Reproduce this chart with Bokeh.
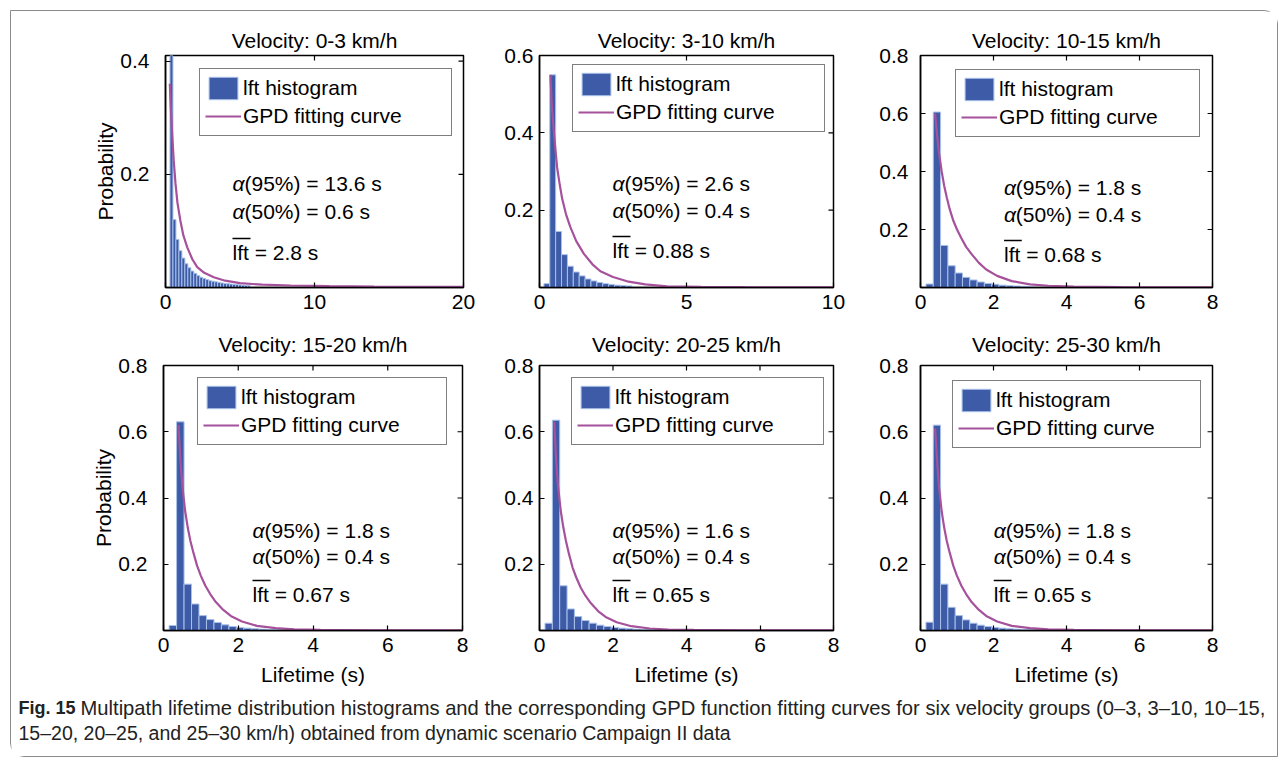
from bokeh.plotting import figure
from bokeh.models import Range1d, FixedTicker, Legend, LegendItem, Spacer
from bokeh.layouts import column, row
from bokeh.embed import file_html
from bokeh.resources import INLINE
from bokeh.core.properties import value

# ---------------- data ----------------
titles = ["Velocity: 0-3 km/h", "Velocity: 3-10 km/h", "Velocity: 10-15 km/h",
          "Velocity: 15-20 km/h", "Velocity: 20-25 km/h", "Velocity: 25-30 km/h"]
x_max = [20, 10, 8, 8, 8, 8]
y_max = [0.41, 0.6, 0.8, 0.8, 0.8, 0.8]
x_ticks = [[0, 10, 20], [0, 5, 10], [0, 2, 4, 6, 8], [0, 2, 4, 6, 8],
           [0, 2, 4, 6, 8], [0, 2, 4, 6, 8]]
y_ticks = [[0.2, 0.4], [0.2, 0.4, 0.6], [0.2, 0.4, 0.6, 0.8],
           [0.2, 0.4, 0.6, 0.8], [0.2, 0.4, 0.6, 0.8], [0.2, 0.4, 0.6, 0.8]]
alpha95 = ["13.6", "2.6", "1.8", "1.8", "1.6", "1.8"]
alpha50 = ["0.6", "0.4", "0.4", "0.4", "0.4", "0.4"]
lft_mean = ["2.8", "0.88", "0.68", "0.67", "0.65", "0.65"]

bins_1 = [0.4, 0.6, 0.8, 1.0, 1.2, 1.4, 1.6, 1.8, 2.0, 2.2, 2.4, 2.6, 2.8, 3.0,
          3.2, 3.4, 3.6, 3.8, 4.0, 4.2, 4.4, 4.6, 4.8, 5.0, 5.2, 5.4, 5.6]
hist_1 = [0.45, 0.12, 0.085, 0.065, 0.052, 0.042, 0.035, 0.029, 0.025, 0.021, 0.018,
          0.016, 0.014, 0.012, 0.011, 0.010, 0.009, 0.008, 0.007, 0.0065, 0.006,
          0.0055, 0.005, 0.0045, 0.004, 0.0035, 0.003]
bins_n = [0.25, 0.45, 0.65, 0.85, 1.05, 1.25, 1.45, 1.65, 1.85, 2.05, 2.25, 2.45,
          2.65, 2.85, 3.05]
hist_2 = [0.01, 0.55, 0.145, 0.085, 0.055, 0.04, 0.03, 0.022, 0.017, 0.013, 0.01,
          0.008, 0.006, 0.005, 0.004]
hist_3 = [0.012, 0.605, 0.145, 0.075, 0.05, 0.035, 0.026, 0.019, 0.014, 0.011,
          0.008, 0.006, 0.005, 0.004, 0.003]
hist_4 = [0.015, 0.63, 0.14, 0.08, 0.045, 0.033, 0.024, 0.017, 0.012, 0.009,
          0.007, 0.005, 0.004, 0.003, 0.003]
hist_5 = [0.022, 0.635, 0.135, 0.065, 0.042, 0.03, 0.022, 0.016, 0.012, 0.009,
          0.007, 0.005, 0.004, 0.003, 0.003]
hist_6 = [0.025, 0.62, 0.14, 0.07, 0.045, 0.032, 0.022, 0.016, 0.012, 0.009,
          0.007, 0.005, 0.004, 0.003, 0.003]

curve_x_1 = [0.29, 0.35, 0.45, 0.55, 0.67, 0.8, 1.0, 1.2, 1.46, 1.8, 2.13, 2.6,
             3.24, 4.0, 5.0, 6.5, 8.4, 11, 14, 17, 20]
curve_y_1 = [0.36, 0.32, 0.27, 0.225, 0.184, 0.15, 0.118, 0.092, 0.071, 0.05,
             0.036, 0.026, 0.018, 0.012, 0.0076, 0.005, 0.0035, 0.0025, 0.0018,
             0.0013, 0.001]
curve_x_2 = [0.37, 0.42, 0.49, 0.55, 0.6, 0.68, 0.77, 0.9, 1.05, 1.25, 1.51, 1.8,
             2.07, 2.5, 2.98, 3.6, 4.34, 5.5, 7, 10]
curve_y_2 = [0.55, 0.47, 0.40, 0.35, 0.31, 0.27, 0.23, 0.19, 0.156, 0.12, 0.087,
             0.06, 0.042, 0.027, 0.016, 0.008, 0.003, 0.0015, 0.0008, 0.0003]
curve_x_3 = [0.40, 0.45, 0.5, 0.58, 0.65, 0.72, 0.8, 0.9, 1.0, 1.12, 1.25, 1.4,
             1.6, 1.8, 2.1, 2.5, 3.0, 3.5, 4.2, 5.5, 8]
curve_y_3 = [0.60, 0.53, 0.47, 0.40, 0.35, 0.31, 0.27, 0.23, 0.20, 0.17, 0.14,
             0.115, 0.085, 0.062, 0.04, 0.022, 0.011, 0.006, 0.003, 0.001, 0.0003]
curve_x_4 = [0.40, 0.45, 0.5, 0.58, 0.65, 0.72, 0.8, 0.9, 1.0, 1.12, 1.25, 1.4,
             1.6, 1.8, 2.1, 2.5, 3.0, 3.5, 4.2, 5.5, 8]
curve_y_4 = [0.62, 0.52, 0.44, 0.36, 0.31, 0.27, 0.235, 0.195, 0.165, 0.135, 0.11,
             0.086, 0.062, 0.044, 0.027, 0.014, 0.007, 0.0035, 0.0018, 0.0008, 0.0003]
curve_x_5 = curve_x_4
curve_y_5 = [0.63, 0.52, 0.44, 0.36, 0.31, 0.27, 0.232, 0.19, 0.16, 0.13, 0.105,
             0.082, 0.058, 0.041, 0.025, 0.013, 0.006, 0.003, 0.0016, 0.0007, 0.0003]
curve_x_6 = curve_x_4
curve_y_6 = [0.61, 0.52, 0.44, 0.36, 0.31, 0.27, 0.235, 0.195, 0.165, 0.135, 0.11,
             0.086, 0.062, 0.044, 0.027, 0.014, 0.007, 0.0035, 0.0018, 0.0008, 0.0003]

bins = [bins_1, bins_n, bins_n, bins_n, bins_n, bins_n]
hists = [hist_1, hist_2, hist_3, hist_4, hist_5, hist_6]
curves_x = [curve_x_1, curve_x_2, curve_x_3, curve_x_4, curve_x_5, curve_x_6]
curves_y = [curve_y_1, curve_y_2, curve_y_3, curve_y_4, curve_y_5, curve_y_6]

legend_labels = ["lft histogram", "GPD fitting curve"]
caption_bold = "Fig. 15"
caption_line1 = ("Multipath lifetime distribution histograms and the corresponding GPD "
                 "function fitting curves for six velocity groups (0\u20133, 3\u201310, 10\u201315,")
caption_line2 = ("15\u201320, 20\u201325, and 25\u201330 km/h) obtained from dynamic scenario "
                 "Campaign II data")

# ---------------- style / layout ----------------
FONT = "Liberation Sans"
FS = "21px"
BAR_FILL = "#3d5ba6"
BAR_EDGE = "#a8c0ea"
CURVE = "#a6519c"
TICK_PX = 5

# (left border, frame width, right border, top border, frame height, bottom border)
geom = [
    (154, 298, 37, 44, 232, 33),
    (39, 294, 43, 44, 232, 33),
    (39, 297, 65, 44, 232, 33),
    (152, 299, 38, 45, 265, 60),
    (39, 294, 43, 45, 265, 60),
    (41, 295, 65, 45, 265, 60),
]
ytick_standoff = [16, 6, 12, 16, 6, 12]
legend_pos = [(34, 15, 251), (33, 11, 251), (35, 16, 243),
              (34, 14, 248), (32, 14, 251), (32, 17, 247)]
text_pos = [(67, 128, 156, 197), (73, 128, 155, 195), (85, 132, 159, 199),
            (89, 165, 191, 229), (73, 165, 191, 229), (74, 165, 191, 229)]


def make_panel(i):
    bl, fw, br, bt, fh, bb = geom[i]
    xm, ym = x_max[i], y_max[i]
    p = figure(width=bl + fw + br, height=bt + fh + bb,
               x_range=Range1d(0, xm), y_range=Range1d(0, ym),
               output_backend="svg", toolbar_location=None,
               min_border_left=bl, min_border_right=br,
               min_border_top=bt, min_border_bottom=bb)
    p.grid.visible = False
    p.outline_line_color = "black"
    p.outline_line_width = 1.5
    p.background_fill_color = "white"
    p.border_fill_color = "white"

    def dx(px):
        return px * xm / fw

    def dyt(px):
        return ym * (1 - px / fh)

    p.title.text = titles[i]
    p.title.align = "center"
    p.title.text_font = FONT
    p.title.text_font_size = FS
    p.title.text_font_style = "normal"
    p.title.text_color = "black"
    p.title.standoff = 7 if i < 3 else 19

    p.xaxis.ticker = FixedTicker(ticks=x_ticks[i])
    p.yaxis.ticker = FixedTicker(ticks=y_ticks[i])
    for ax in p.axis:
        ax.major_label_text_font = FONT
        ax.major_label_text_font_size = FS
        ax.major_label_text_color = "black"
        ax.major_tick_in = TICK_PX
        ax.major_tick_out = 0
        ax.minor_tick_line_color = None
        ax.axis_line_color = "black"
        ax.axis_line_width = 1.5
        ax.major_tick_line_width = 1.2
        ax.axis_label_text_font = FONT
        ax.axis_label_text_font_size = FS
        ax.axis_label_text_font_style = "normal"
        ax.axis_label_text_color = "black"
    p.xaxis.major_label_standoff = 7
    p.yaxis.major_label_standoff = ytick_standoff[i]
    if i in (0, 3):
        p.yaxis.axis_label = "Probability"
        p.yaxis.axis_label_standoff = 0
    if i >= 3:
        p.xaxis.axis_label = "Lifetime (s)"
        p.xaxis.axis_label_standoff = 8

    # box tick marks on the top and right edges
    xt = [t for t in x_ticks[i] if 0 < t < xm]
    yt = [t for t in y_ticks[i] if 0 < t < ym]
    p.segment(x0=xt, y0=[ym] * len(xt), x1=xt, y1=[dyt(TICK_PX)] * len(xt),
              line_color="black", line_width=1.2)
    p.segment(x0=[xm] * len(yt), y0=yt, x1=[xm - dx(TICK_PX)] * len(yt), y1=yt,
              line_color="black", line_width=1.2)

    bars = p.vbar(x=bins[i], top=hists[i], width=0.2, bottom=0,
                  fill_color=BAR_FILL, line_color=BAR_EDGE, line_width=1)
    curve = p.line(curves_x[i], curves_y[i], line_color=CURVE, line_width=2.2)

    lx, ly, lw = legend_pos[i]
    pad, gw, gh, sp, stand = 5, 36, 28, 0, 2
    leg_h = 2 * pad + 2 * gh + sp
    legend = Legend(items=[LegendItem(label=legend_labels[0], renderers=[bars]),
                           LegendItem(label=legend_labels[1], renderers=[curve])],
                    location=(lx, fh - ly - leg_h),
                    border_line_color="black", border_line_width=1.5,
                    background_fill_color="white", background_fill_alpha=1.0,
                    label_text_font=FONT, label_text_font_size=FS,
                    label_text_color="black",
                    glyph_width=gw, glyph_height=gh, label_height=gh,
                    label_standoff=stand, padding=pad, spacing=sp, margin=0,
                    label_width=lw - 2 * pad - gw - stand)
    p.add_layout(legend)

    tx, y1, y2, y3 = text_pos[i]
    p.text(x=[dx(tx), dx(tx)], y=[dyt(y1), dyt(y2)], text=["\u03b1", "\u03b1"],
           text_font=value(FONT), text_font_size=FS, text_font_style="italic",
           text_baseline="middle", text_align="left", text_color="black")
    p.text(x=[dx(tx + 12), dx(tx + 12)], y=[dyt(y1), dyt(y2)],
           text=["(95%) = " + alpha95[i] + " s", "(50%) = " + alpha50[i] + " s"],
           text_font=value(FONT), text_font_size=FS,
           text_baseline="middle", text_align="left", text_color="black")
    p.text(x=[dx(tx)], y=[dyt(y3)], text=["lft = " + lft_mean[i] + " s"],
           text_font=value(FONT), text_font_size=FS,
           text_baseline="middle", text_align="left", text_color="black")
    p.segment(x0=[dx(tx)], y0=[dyt(y3 - 14)], x1=[dx(tx + 18)], y1=[dyt(y3 - 14)],
              line_color="black", line_width=1.3)
    return p


panels = [make_panel(i) for i in range(6)]

cap = figure(width=1266, height=66, x_range=Range1d(0, 1266), y_range=Range1d(66, 0),
             output_backend="svg", toolbar_location=None, min_border=0)
cap.axis.visible = False
cap.grid.visible = False
cap.outline_line_color = None
cap.text(x=[7], y=[17], text=[caption_bold], text_font=value(FONT),
         text_font_size="18px", text_font_style="bold", text_baseline="middle",
         text_color="#222222")
cap.text(x=[69], y=[17], text=[caption_line1],
         text_font=value(FONT), text_font_size="20.2px", text_baseline="middle",
         text_color="#222222")
cap.text(x=[7], y=[42], text=[caption_line2],
         text_font=value(FONT), text_font_size="19.5px", text_baseline="middle",
         text_color="#222222")

inner = column(row(*panels[:3]), row(*panels[3:]), cap,
               styles={"border": "1px solid #8a8a8a",
                       "border-radius": "0px 14px 0px 14px"})
root = column(Spacer(height=10), row(Spacer(width=10), inner))

open("out.html", "w").write(file_html(root, INLINE))
